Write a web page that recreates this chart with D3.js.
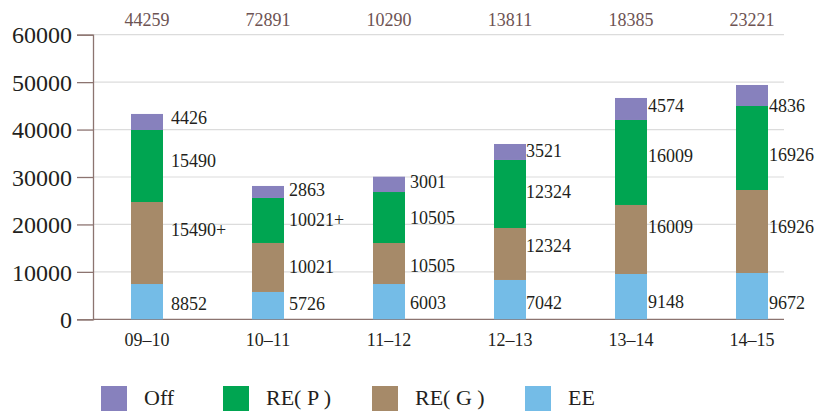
<!DOCTYPE html>
<html>
<head>
<meta charset="utf-8">
<script src="https://cdn.jsdelivr.net/npm/d3@7"></script>
<style>
  body { margin: 0; background: #fff; font-family: "Liberation Serif"; }
</style>
</head>
<body>
<svg id="chart" width="821" height="412" font-family="Liberation Serif"></svg>
<script>
// categories and series
var years = ["09\u201310", "10\u201311", "11\u201312", "12\u201313", "13\u201314", "14\u201315"];
var seriesNames = ["EE", "RE( G )", "RE( P )", "Off"];
var legendOrder = ["Off", "RE( P )", "RE( G )", "EE"];

// segment heights as drawn in the picture
var eeValues  = [7440, 5760, 7440, 8290, 9550, 9760];
var regValues = [17290, 10330, 8645, 10960, 14550, 17500];
var repValues = [15180, 9490, 10750, 14340, 17920, 17710];
var offValues = [3380, 2530, 3230, 3370, 4640, 4430];

// printed labels
var eeLabels  = ["8852", "5726", "6003", "7042", "9148", "9672"];
var regLabels = ["15490+", "10021", "10505", "12324", "16009", "16926"];
var repLabels = ["15490", "10021+", "10505", "12324", "16009", "16926"];
var offLabels = ["4426", "2863", "3001", "3521", "4574", "4836"];
var totalLabels = ["44259", "72891", "10290", "13811", "18385", "23221"];

var yTicks = [0, 10000, 20000, 30000, 40000, 50000, 60000];

var colors = {
    "Off": "#8781bd",
    "RE( P )": "#00a551",
    "RE( G )": "#a68a69",
    "EE": "#74bce7"
};

var FONT = "Liberation Serif";
var plotLeft = 93, plotRight = 784, plotTop = 34.7, plotBottom = 319.3;

var svg = d3.select("#chart");

var x = d3.scaleBand()
    .domain(years)
    .range([plotLeft, 806])
    .paddingInner(0.7355)
    .paddingOuter(0.314);

var y = d3.scaleLinear()
    .domain([0, 60000])
    .range([plotBottom, plotTop]);

// build table for stacking
var table = years.map(function (yr, i) {
    return {
        year: yr,
        "EE": eeValues[i],
        "RE( G )": regValues[i],
        "RE( P )": repValues[i],
        "Off": offValues[i]
    };
});
var labelsBySeries = {
    "EE": eeLabels,
    "RE( G )": regLabels,
    "RE( P )": repLabels,
    "Off": offLabels
};

var stacked = d3.stack().keys(seriesNames)(table);

// gridlines
svg.append("g")
    .selectAll("line")
    .data(yTicks.filter(function (d) { return d > 0; }))
    .enter().append("line")
    .attr("x1", plotLeft)
    .attr("x2", plotRight)
    .attr("y1", function (d) { return y(d); })
    .attr("y2", function (d) { return y(d); })
    .attr("stroke", "#dcdcdc")
    .attr("stroke-width", 1.2);

// y axis
var yAxis = d3.axisLeft(y)
    .tickValues(yTicks)
    .tickSize(16)
    .tickPadding(5)
    .tickFormat(d3.format("d"));

var yg = svg.append("g")
    .attr("transform", "translate(" + plotLeft + ",0)")
    .call(yAxis)
    .attr("font-family", FONT)
    .attr("font-size", 24);
yg.select(".domain").attr("stroke", "#8c7470").attr("stroke-width", 1.3);
yg.selectAll(".tick line").attr("stroke", "#8c7470").attr("stroke-width", 1.3);
yg.selectAll(".tick text")
    .attr("fill", "#231f20")
    .attr("dy", "0.34em")
    .style("font-family", FONT);

// baseline
svg.append("line")
    .attr("x1", plotLeft)
    .attr("x2", plotRight)
    .attr("y1", y(0))
    .attr("y2", y(0))
    .attr("stroke", "#8c7470")
    .attr("stroke-width", 1.3);

// bars
var layers = svg.append("g")
    .selectAll("g")
    .data(stacked)
    .enter().append("g")
    .attr("fill", function (d) { return colors[d.key]; });

layers.selectAll("rect")
    .data(function (d) { return d; })
    .enter().append("rect")
    .attr("x", function (d) { return x(d.data.year); })
    .attr("y", function (d) { return y(d[1]); })
    .attr("width", x.bandwidth())
    .attr("height", function (d) { return y(d[0]) - y(d[1]); });

// segment labels (small vertical nudges so they sit where the original put them)
var labelGap = [8, 5, 5, 0, 1, 1];
var labelNudge = {
    "EE":      [3, -1, 2, 4, 6, 7],
    "RE( G )": [-12, 0, 3, -7, -12, -4],
    "RE( P )": [-4, 0, 1, -1, -6, 8],
    "Off":     [-3, -1, -2, 0, -2, 11]
};
stacked.forEach(function (layer) {
    svg.append("g")
        .selectAll("text")
        .data(layer)
        .enter().append("text")
        .attr("x", function (d, i) { return x(d.data.year) + x.bandwidth() + labelGap[i]; })
        .attr("y", function (d, i) { return (y(d[0]) + y(d[1])) / 2 + labelNudge[layer.key][i]; })
        .attr("dy", "0.3em")
        .attr("fill", "#231f20")
        .attr("font-size", 18)
        .style("font-family", FONT)
        .text(function (d, i) { return labelsBySeries[layer.key][i]; });
});

// totals on top
svg.append("g")
    .selectAll("text")
    .data(years)
    .enter().append("text")
    .attr("x", function (d) { return x(d) + x.bandwidth() / 2; })
    .attr("y", 26)
    .attr("text-anchor", "middle")
    .attr("fill", "#6d5353")
    .attr("font-size", 18)
    .style("font-family", FONT)
    .text(function (d, i) { return totalLabels[i]; });

// x labels
svg.append("g")
    .selectAll("text")
    .data(years)
    .enter().append("text")
    .attr("x", function (d) { return x(d) + x.bandwidth() / 2; })
    .attr("y", 346)
    .attr("text-anchor", "middle")
    .attr("fill", "#231f20")
    .attr("font-size", 18)
    .style("font-family", FONT)
    .text(function (d) { return d; });

// legend
var legendX = [101, 223, 372, 525];
var legend = svg.append("g")
    .selectAll("g")
    .data(legendOrder)
    .enter().append("g")
    .attr("transform", function (d, i) { return "translate(" + legendX[i] + ",386)"; });

legend.append("rect")
    .attr("width", 26)
    .attr("height", 25)
    .attr("fill", function (d) { return colors[d]; });

legend.append("text")
    .attr("x", 43)
    .attr("y", 19)
    .attr("fill", "#231f20")
    .attr("font-size", 22)
    .style("font-family", FONT)
    .text(function (d) { return d; });
</script>
</body>
</html>
